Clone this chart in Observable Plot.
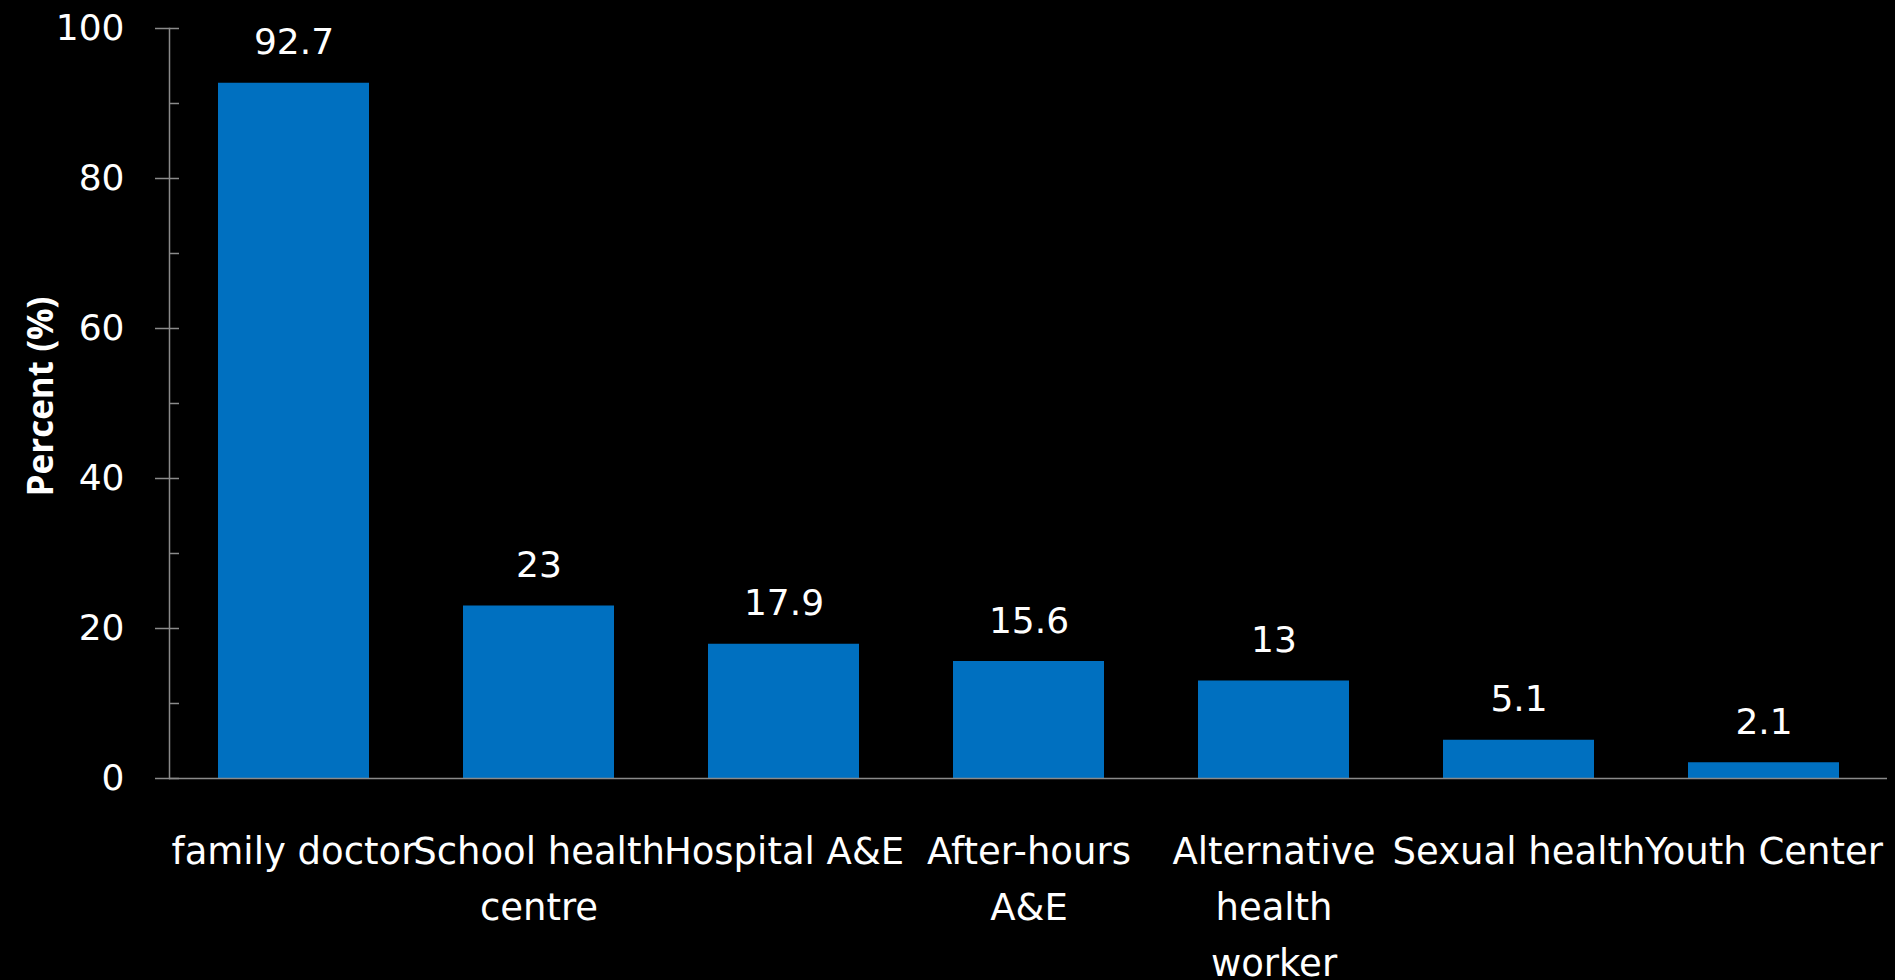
<!DOCTYPE html>
<html>
<head>
<meta charset="utf-8">
<script src="https://cdn.jsdelivr.net/npm/d3@7"></script>
<script src="https://cdn.jsdelivr.net/npm/@observablehq/plot@0.6"></script>
<style>
  html, body { margin: 0; padding: 0; background: #000; }
  #chart svg { display: block; }
</style>
</head>
<body>
<div id="chart"></div>
<script>
const categories = ["family doctor", "School health\ncentre", "Hospital A&E", "After-hours\nA&E", "Alternative\nhealth\nworker", "Sexual health", "Youth Center"];
const values = [92.7, 23, 17.9, 15.6, 13, 5.1, 2.1];
const yMajorTicks = [0, 20, 40, 60, 80, 100];
const yMinorTicks = [10, 30, 50, 70, 90];
const yLabel = "Percent (%)";

const data = categories.map((c, i) => ({category: c, value: values[i]}));
const axisGray = "#8a8a8a";

const chart = Plot.plot({
  width: 1895,
  height: 980,
  marginLeft: 169,
  marginRight: 8,
  marginTop: 28,
  marginBottom: 202,
  style: {background: "#000", color: "#fff", fontFamily: "DejaVu Sans"},
  x: {type: "band", domain: categories, paddingInner: 0.385, paddingOuter: 0.1925, align: 0.5, label: null},
  y: {domain: [0, 100], label: null},
  marks: [
    Plot.barY(data, {x: "category", y: "value", fill: "#0070C0"}),
    Plot.frame({anchor: "left", stroke: axisGray, strokeWidth: 1.5}),
    Plot.ruleY([0], {stroke: axisGray, strokeWidth: 1.5}),
    Plot.axisY(yMajorTicks, {anchor: "left", tickSize: 24, dx: 10, stroke: axisGray, strokeWidth: 1.5, fill: "none", label: null}),
    Plot.axisY(yMinorTicks, {anchor: "left", tickSize: 10, dx: 10, stroke: axisGray, strokeWidth: 1.5, fill: "none", label: null}),
    Plot.axisY(yMajorTicks, {anchor: "left", tickSize: 0, tickPadding: 45, fill: "#fff", stroke: "none", fontSize: 36, label: null}),
    Plot.axisX({anchor: "bottom", tickSize: 0, tickPadding: 46, fill: "#fff", fontSize: 37, lineHeight: 1.51, label: null}),
    Plot.text(data, {x: "category", y: "value", text: d => String(d.value), dy: -29, lineAnchor: "bottom", fill: "#fff", fontSize: 36}),
    Plot.text([yLabel], {frameAnchor: "left", rotate: -90, dx: -117, dy: -7, textAnchor: "middle", lineAnchor: "bottom", fill: "#fff", fontSize: 35, fontWeight: "bold", fontFamily: "Open Sans"})
  ]
});
document.getElementById("chart").appendChild(chart);
</script>
</body>
</html>
